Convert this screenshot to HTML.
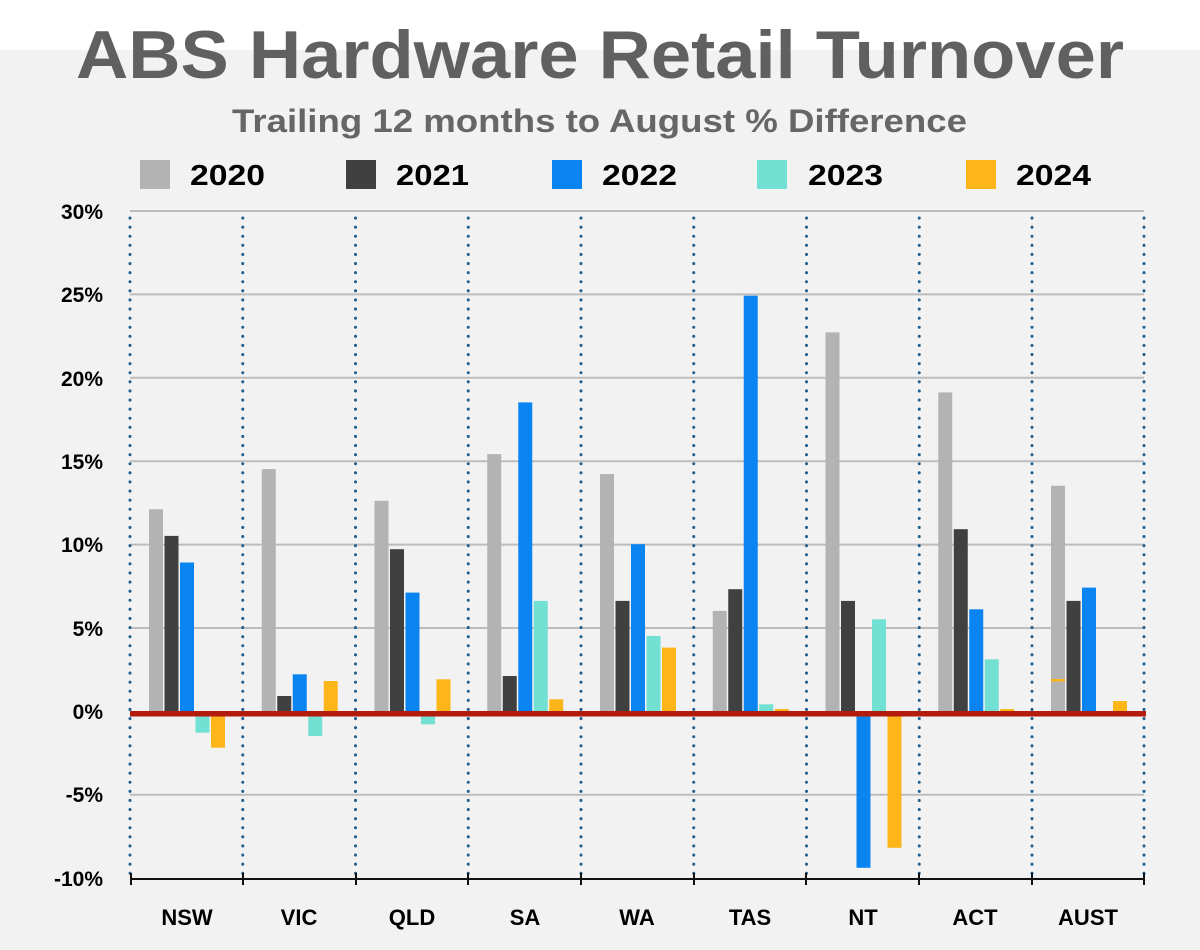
<!DOCTYPE html>
<html><head><meta charset="utf-8"><style>
html,body{margin:0;padding:0;background:#fff}
svg{display:block}
text{font-family:"Liberation Sans",sans-serif;font-weight:bold}
</style></head><body>
<svg width="1200" height="950" viewBox="0 0 1200 950" xmlns="http://www.w3.org/2000/svg">
<rect x="0" y="0" width="1200" height="950" fill="#fff"/>
<rect x="0" y="50" width="1200" height="900" fill="#f2f2f2"/>
<line x1="0" y1="112" x2="1200" y2="112" stroke="#f8f8f8" stroke-width="1"/>
<text x="76" y="78" font-size="68" fill="#606060" textLength="1048" lengthAdjust="spacingAndGlyphs">ABS Hardware Retail Turnover</text>
<text x="232" y="132" font-size="32" fill="#666" textLength="735" lengthAdjust="spacingAndGlyphs">Trailing 12 months to August % Difference</text>
<g font-size="29" fill="#000">
<rect x="140" y="160" width="30" height="29" fill="#b3b3b3"/><text x="190" y="185" textLength="75" lengthAdjust="spacingAndGlyphs">2020</text>
<rect x="346" y="160" width="30" height="29" fill="#404040"/><text x="396" y="185" textLength="73" lengthAdjust="spacingAndGlyphs">2021</text>
<rect x="552" y="160" width="30" height="29" fill="#0a84f0"/><text x="602" y="185" textLength="75" lengthAdjust="spacingAndGlyphs">2022</text>
<rect x="757" y="160" width="30" height="29" fill="#72e0d2"/><text x="808" y="185" textLength="75" lengthAdjust="spacingAndGlyphs">2023</text>
<rect x="966" y="160" width="30" height="29" fill="#fcb61a"/><text x="1016" y="185" textLength="75" lengthAdjust="spacingAndGlyphs">2024</text>
</g>
<g stroke="#bdbdbd" stroke-width="2">
<line x1="130" y1="211" x2="1144" y2="211"/>
<line x1="130" y1="294.4" x2="1144" y2="294.4"/>
<line x1="130" y1="377.8" x2="1144" y2="377.8"/>
<line x1="130" y1="461.2" x2="1144" y2="461.2"/>
<line x1="130" y1="544.6" x2="1144" y2="544.6"/>
<line x1="130" y1="628" x2="1144" y2="628"/>
<line x1="130" y1="794.8" x2="1144" y2="794.8"/>
</g>
<g stroke="#1f5f8f" stroke-width="3" stroke-dasharray="0.1 9" stroke-linecap="round">
<line x1="130" y1="218" x2="130" y2="875"/>
<line x1="242.75" y1="218" x2="242.75" y2="875"/>
<line x1="355.5" y1="218" x2="355.5" y2="875"/>
<line x1="468.25" y1="218" x2="468.25" y2="875"/>
<line x1="581" y1="218" x2="581" y2="875"/>
<line x1="693.75" y1="218" x2="693.75" y2="875"/>
<line x1="806.5" y1="218" x2="806.5" y2="875"/>
<line x1="919.25" y1="218" x2="919.25" y2="875"/>
<line x1="1032" y1="218" x2="1032" y2="875"/>
<line x1="1144" y1="218" x2="1144" y2="875"/>
</g>
<g>
<rect x="149" y="509.2" width="14" height="201.8" fill="#b3b3b3"/>
<rect x="164.5" y="535.9" width="14" height="175.1" fill="#404040"/>
<rect x="180" y="562.5" width="14" height="148.5" fill="#0a84f0"/>
<rect x="195.5" y="711" width="14" height="21.7" fill="#72e0d2"/>
<rect x="211" y="711" width="14" height="36.7" fill="#fcb61a"/>
<rect x="261.75" y="469.1" width="14" height="241.9" fill="#b3b3b3"/>
<rect x="277.25" y="696" width="14" height="15" fill="#404040"/>
<rect x="292.75" y="674.3" width="14" height="36.7" fill="#0a84f0"/>
<rect x="308.25" y="711" width="14" height="25" fill="#72e0d2"/>
<rect x="323.75" y="681" width="14" height="30" fill="#fcb61a"/>
<rect x="374.5" y="500.8" width="14" height="210.2" fill="#b3b3b3"/>
<rect x="390" y="549.2" width="14" height="161.8" fill="#404040"/>
<rect x="405.5" y="592.6" width="14" height="118.4" fill="#0a84f0"/>
<rect x="421" y="711" width="14" height="13.3" fill="#72e0d2"/>
<rect x="436.5" y="679.3" width="14" height="31.7" fill="#fcb61a"/>
<rect x="487.25" y="454.1" width="14" height="256.9" fill="#b3b3b3"/>
<rect x="502.75" y="676" width="14" height="35" fill="#404040"/>
<rect x="518.25" y="402.4" width="14" height="308.6" fill="#0a84f0"/>
<rect x="533.75" y="600.9" width="14" height="110.1" fill="#72e0d2"/>
<rect x="549.25" y="699.3" width="14" height="11.7" fill="#fcb61a"/>
<rect x="600" y="474.1" width="14" height="236.9" fill="#b3b3b3"/>
<rect x="615.5" y="600.9" width="14" height="110.1" fill="#404040"/>
<rect x="631" y="544.2" width="14" height="166.8" fill="#0a84f0"/>
<rect x="646.5" y="635.9" width="14" height="75.1" fill="#72e0d2"/>
<rect x="662" y="647.6" width="14" height="63.4" fill="#fcb61a"/>
<rect x="712.75" y="610.9" width="14" height="100.1" fill="#b3b3b3"/>
<rect x="728.25" y="589.2" width="14" height="121.8" fill="#404040"/>
<rect x="743.75" y="295.7" width="14" height="415.3" fill="#0a84f0"/>
<rect x="759.25" y="704.3" width="14" height="6.7" fill="#72e0d2"/>
<rect x="774.75" y="709" width="14" height="2" fill="#fcb61a"/>
<rect x="825.5" y="332.4" width="14" height="378.6" fill="#b3b3b3"/>
<rect x="841" y="600.9" width="14" height="110.1" fill="#404040"/>
<rect x="856.5" y="711" width="14" height="156.8" fill="#0a84f0"/>
<rect x="872" y="619.3" width="14" height="91.7" fill="#72e0d2"/>
<rect x="887.5" y="711" width="14" height="136.8" fill="#fcb61a"/>
<rect x="938.25" y="392.4" width="14" height="318.6" fill="#b3b3b3"/>
<rect x="953.75" y="529.2" width="14" height="181.8" fill="#404040"/>
<rect x="969.25" y="609.3" width="14" height="101.7" fill="#0a84f0"/>
<rect x="984.75" y="659.3" width="14" height="51.7" fill="#72e0d2"/>
<rect x="1000.25" y="709" width="14" height="2" fill="#fcb61a"/>
<rect x="1051" y="485.8" width="14" height="225.2" fill="#b3b3b3"/>
<rect x="1051" y="679" width="14" height="2.5" fill="#fcb61a"/>
<rect x="1066.5" y="600.9" width="14" height="110.1" fill="#404040"/>
<rect x="1082" y="587.6" width="14" height="123.4" fill="#0a84f0"/>
<rect x="1113" y="701" width="14" height="10" fill="#fcb61a"/>
</g>
<rect x="130" y="711" width="1016" height="5.5" fill="#b31b0c"/>
<g stroke="#111" stroke-width="2">
<line x1="130" y1="879" x2="1144" y2="879"/>
<line x1="131" y1="873" x2="131" y2="885"/>
<line x1="243" y1="873" x2="243" y2="885"/>
<line x1="356" y1="873" x2="356" y2="885"/>
<line x1="468" y1="873" x2="468" y2="885"/>
<line x1="581" y1="873" x2="581" y2="885"/>
<line x1="694" y1="873" x2="694" y2="885"/>
<line x1="806" y1="873" x2="806" y2="885"/>
<line x1="919" y1="873" x2="919" y2="885"/>
<line x1="1032" y1="873" x2="1032" y2="885"/>
<line x1="1144" y1="873" x2="1144" y2="885"/>
</g>
<g font-size="21" fill="#000" text-anchor="end">
<text x="103" y="219">30%</text>
<text x="103" y="302">25%</text>
<text x="103" y="386">20%</text>
<text x="103" y="469">15%</text>
<text x="103" y="552">10%</text>
<text x="103" y="636">5%</text>
<text x="103" y="719">0%</text>
<text x="103" y="802">-5%</text>
<text x="103" y="886">-10%</text>
</g>
<g font-size="22" fill="#000" text-anchor="middle">
<text x="187" y="925">NSW</text>
<text x="299" y="925">VIC</text>
<text x="412" y="925">QLD</text>
<text x="525" y="925">SA</text>
<text x="637" y="925">WA</text>
<text x="750" y="925">TAS</text>
<text x="863" y="925">NT</text>
<text x="975" y="925">ACT</text>
<text x="1088" y="925">AUST</text>
</g>
</svg>
</body></html>
